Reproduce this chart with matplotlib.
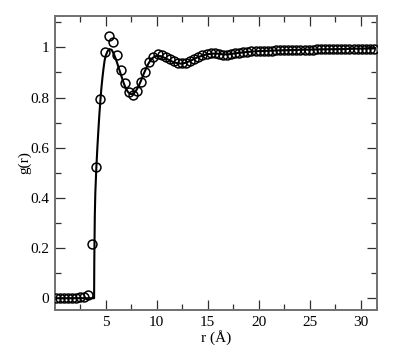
import matplotlib
matplotlib.use("Agg")
import matplotlib.pyplot as plt
from matplotlib.ticker import MultipleLocator

# Simulation points (circles), r = 0.1 .. 31.3 step 0.4
r_points = [round(0.1 + 0.4 * k, 2) for k in range(79)]
g_points = [0.0, 0.0, 0.0, 0.0, 0.0, 0.0, 0.004, 0.004, 0.013, 0.216,
            0.524, 0.794, 0.981, 1.045, 1.022, 0.969, 0.910, 0.857, 0.822, 0.810,
            0.827, 0.863, 0.903, 0.940, 0.962, 0.973, 0.969, 0.962, 0.952, 0.944,
            0.938, 0.936, 0.938, 0.944, 0.952, 0.962, 0.969, 0.974, 0.976, 0.976,
            0.974, 0.971, 0.970, 0.972, 0.976, 0.979, 0.981, 0.983, 0.984, 0.985,
            0.986, 0.986, 0.987, 0.987, 0.988, 0.988, 0.989, 0.989, 0.990, 0.990,
            0.990, 0.991, 0.991, 0.991, 0.992, 0.992, 0.992, 0.993, 0.993, 0.993,
            0.994, 0.994, 0.994, 0.994, 0.995, 0.995, 0.995, 0.995, 0.995]

# Theory curve (solid line)
r_line = [0.0, 3.88, 3.9, 3.95, 4.0, 4.1, 4.2, 4.3, 4.4, 4.5, 4.6, 4.7, 4.8, 4.9,
          5.0, 5.2, 5.4, 5.6, 5.8, 6.0, 6.2, 6.4, 6.6, 6.8, 7.0, 7.2, 7.4, 7.6,
          7.8, 8.0, 8.2, 8.4, 8.6, 8.8, 9.0, 9.2, 9.4, 9.6, 9.8, 10.0, 10.4, 10.8,
          11.2, 11.6, 12.0, 12.4, 12.8, 13.2, 13.6, 14.0, 14.5, 15.0, 15.5, 16.0,
          16.5, 17.0, 18.0, 19.0, 20.0, 22.0, 24.0, 26.0, 28.0, 30.0, 31.6]
g_line = [0.0, 0.0, 0.15, 0.33, 0.42, 0.52, 0.60, 0.67, 0.735, 0.79, 0.84, 0.88,
          0.915, 0.945, 0.965, 0.985, 0.993, 0.99, 0.975, 0.955, 0.93, 0.905, 0.88,
          0.855, 0.835, 0.822, 0.815, 0.813, 0.818, 0.828, 0.842, 0.86, 0.88, 0.90,
          0.918, 0.935, 0.948, 0.957, 0.963, 0.966, 0.965, 0.958, 0.950, 0.942,
          0.937, 0.935, 0.938, 0.944, 0.952, 0.960, 0.967, 0.973, 0.975, 0.975,
          0.972, 0.972, 0.978, 0.982, 0.985, 0.988, 0.990, 0.992, 0.993, 0.995, 0.996]

x_ticks = [5, 10, 15, 20, 25, 30]
y_ticks = [0, 0.2, 0.4, 0.6, 0.8, 1.0]
y_tick_labels = ["0", "0.2", "0.4", "0.6", "0.8", "1"]

plt.rcParams['font.family'] = ['Liberation Serif', 'DejaVu Serif']

fig = plt.figure(figsize=(4.03, 3.53), dpi=100)
ax = fig.add_axes([0.1365, 0.1218, 0.799, 0.8329])

ax.plot(r_line, g_line, color='black', lw=1.5, zorder=2)
ax.plot(r_points, g_points, linestyle='none', marker='o', markersize=6.4,
        markerfacecolor='none', markeredgecolor='black', markeredgewidth=1.1, zorder=3)

ax.set_xlim(0.05, 31.6)
ax.set_ylim(-0.047, 1.125)
ax.set_xticks(x_ticks)
ax.set_yticks(y_ticks)
ax.set_yticklabels(y_tick_labels)
ax.xaxis.set_minor_locator(MultipleLocator(2.5))
ax.yaxis.set_minor_locator(MultipleLocator(0.1))

ax.tick_params(which='both', direction='in', top=True, right=True, labelsize=11,
               color='#303030', width=0.9)
ax.tick_params(which='major', length=7, pad=4)
ax.tick_params(which='minor', length=4)
for s in ax.spines.values():
    s.set_color('#707070')
    s.set_linewidth(1.4)

ax.set_xlabel("r (Å)", fontsize=11, labelpad=1)
ax.set_ylabel("g(r)", fontsize=11, labelpad=-1)

fig.savefig("out.png", dpi=100)
